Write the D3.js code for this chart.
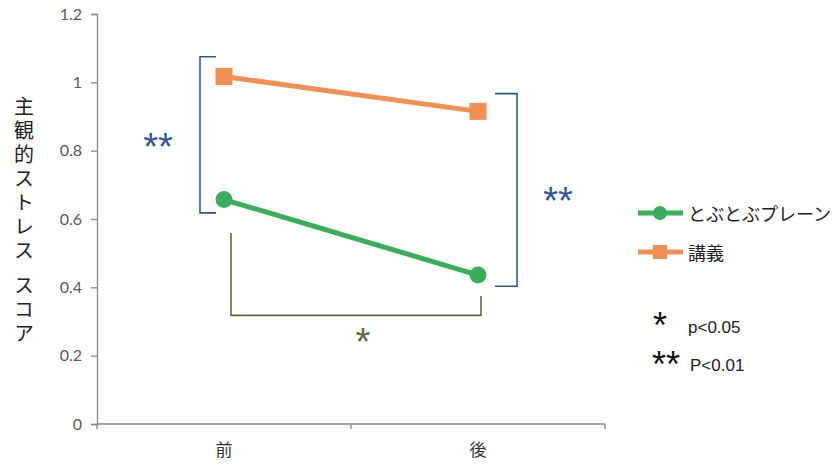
<!DOCTYPE html>
<html>
<head>
<meta charset="utf-8">
<script src="https://cdn.jsdelivr.net/npm/d3@7"></script>
<style>
  html, body { margin: 0; padding: 0; background: #fff; }
  svg { display: block; }
</style>
</head>
<body>
<svg id="chart" width="834" height="466"></svg>
<script>
// Subjective stress score before and after, for two conditions
const categories = ["前", "後"];
const seriesNames = ["とぶとぶプレーン", "講義"];
const tobuValues = [0.657, 0.436];
const lectureValues = [1.017, 0.915];
const yTicks = [0, 0.2, 0.4, 0.6, 0.8, 1, 1.2];
const yTitle = "主観的ストレス スコア";

const svg = d3.select("#chart");
const margin = { left: 97, right: 229, top: 14, bottom: 42 };
const W = 834, H = 466;
const plotW = W - margin.left - margin.right;
const plotH = H - margin.top - margin.bottom;

const x = d3.scaleBand().domain(categories).range([margin.left, margin.left + plotW]);
const y = d3.scaleLinear().domain([0, 1.2]).range([margin.top + plotH, margin.top]);
const cx = c => x(c) + x.bandwidth() / 2;

const axisColor = "#868686";
const tickFont = "Lato, 'Open Sans', sans-serif";
const jpFont = "'Noto Sans CJK JP', sans-serif";
const starFont = "'Liberation Sans', Arial, sans-serif";
const green = "#3aae5a";
const orange = "#f28f52";
const blue = "#2f5597";
const olive = "#5d6b3a";

// Y axis
const yAxis = svg.append("g")
  .attr("transform", `translate(${margin.left},0)`)
  .call(d3.axisLeft(y).tickValues(yTicks).tickSize(6).tickPadding(9)
    .tickFormat(d => d3.format("")(+d.toFixed(1))));
yAxis.select(".domain").attr("stroke", axisColor).attr("stroke-width", 1.3);
yAxis.selectAll(".tick line").attr("stroke", axisColor).attr("stroke-width", 1.3);
yAxis.selectAll(".tick text").attr("fill", "#595959")
  .style("font-family", tickFont).style("font-size", "16px");

// X axis with ticks at category boundaries
const xAxisG = svg.append("g").attr("transform", `translate(0,${y(0)})`);
xAxisG.append("line")
  .attr("x1", margin.left).attr("x2", margin.left + plotW)
  .attr("stroke", axisColor).attr("stroke-width", 1.3);
const bounds = [x(categories[0]), x(categories[1]), x(categories[1]) + x.bandwidth()];
xAxisG.selectAll(".xb").data(bounds).enter().append("line")
  .attr("x1", d => d).attr("x2", d => d).attr("y1", 0).attr("y2", 5)
  .attr("stroke", axisColor).attr("stroke-width", 1.3);
xAxisG.selectAll(".xl").data(categories).enter().append("text")
  .attr("x", d => cx(d)).attr("y", 32)
  .attr("text-anchor", "middle")
  .attr("fill", "#333")
  .style("font-family", jpFont).style("font-size", "17px")
  .text(d => d);

// Y title, set in vertical writing mode; the word gap is kept narrow
const titleParts = yTitle.split(" ");
const title = svg.append("text")
  .attr("x", 24).attr("y", 96)
  .attr("fill", "#222")
  .style("writing-mode", "vertical-rl")
  .style("text-orientation", "upright")
  .style("letter-spacing", "4px")
  .style("font-family", jpFont).style("font-size", "20px");
titleParts.forEach((part, i) => {
  if (i > 0) title.append("tspan").style("font-size", "7px").text("\u00a0");
  title.append("tspan").text(part);
});

// Significance brackets
const bracketPath = (pts) => d3.line()(pts);
const leftBx = 200, rightBx = 517;
svg.append("path")
  .attr("d", bracketPath([[216, y(1.075)], [leftBx, y(1.075)], [leftBx, y(0.618)], [216, y(0.618)]]))
  .attr("fill", "none").attr("stroke", blue).attr("stroke-width", 1.6);
svg.append("path")
  .attr("d", bracketPath([[495, y(0.967)], [rightBx, y(0.967)], [rightBx, y(0.403)], [495, y(0.403)]]))
  .attr("fill", "none").attr("stroke", blue).attr("stroke-width", 1.6);
svg.append("path")
  .attr("d", bracketPath([[231, y(0.559)], [231, y(0.318)], [481, y(0.318)], [481, y(0.375)]]))
  .attr("fill", "none").attr("stroke", olive).attr("stroke-width", 1.6);

// Asterisks: the glyph sits ~0.58em above the baseline, so shift to centre it
const star = (tx, cy, txt, col, size) => svg.append("text")
  .attr("x", tx).attr("y", cy + size * 0.58).attr("text-anchor", "middle")
  .attr("fill", col)
  .style("font-family", starFont)
  .style("font-size", size + "px")
  .text(txt);
star(158, 138, "**", blue, 38);
star(558, 192, "**", blue, 38);
star(363, 333, "*", olive, 38);

// Series lines and markers
const line = d3.line().x((d, i) => cx(categories[i])).y(d => y(d));
svg.append("path").datum(lectureValues)
  .attr("d", line).attr("fill", "none").attr("stroke", orange).attr("stroke-width", 5);
svg.append("path").datum(tobuValues)
  .attr("d", line).attr("fill", "none").attr("stroke", green).attr("stroke-width", 5);

svg.selectAll(".sq").data(lectureValues).enter().append("rect")
  .attr("x", (d, i) => cx(categories[i]) - 8.5).attr("y", d => y(d) - 8.5)
  .attr("width", 17).attr("height", 17).attr("fill", orange);
svg.selectAll(".dot").data(tobuValues).enter().append("circle")
  .attr("cx", (d, i) => cx(categories[i])).attr("cy", d => y(d))
  .attr("r", 8.5).attr("fill", green);

// Legend
const legend = svg.append("g");
const legendItems = [
  { name: seriesNames[0], color: green, shape: "circle", y: 213 },
  { name: seriesNames[1], color: orange, shape: "square", y: 252 }
];
legendItems.forEach(it => {
  legend.append("line").attr("x1", 638).attr("x2", 683).attr("y1", it.y).attr("y2", it.y)
    .attr("stroke", it.color).attr("stroke-width", 5);
  if (it.shape === "circle") {
    legend.append("circle").attr("cx", 660).attr("cy", it.y).attr("r", 7).attr("fill", it.color);
  } else {
    legend.append("rect").attr("x", 653).attr("y", it.y - 7).attr("width", 14).attr("height", 14).attr("fill", it.color);
  }
  legend.append("text").attr("x", 688).attr("y", it.y).attr("dominant-baseline", "central")
    .attr("fill", "#222").style("font-family", jpFont).style("font-size", "18px")
    .text(it.name);
});

// Significance key
const keyStar = (tx, cy, txt) => legend.append("text")
  .attr("x", tx).attr("y", cy + 36 * 0.58).attr("text-anchor", "middle")
  .attr("fill", "#111").style("font-family", starFont).style("font-size", "36px").text(txt);
keyStar(660, 317, "*");
keyStar(666, 356, "**");
legend.append("text").attr("x", 688).attr("y", 333)
  .attr("fill", "#222").style("font-family", starFont).style("font-size", "17px").text("p<0.05");
legend.append("text").attr("x", 690).attr("y", 371)
  .attr("fill", "#222").style("font-family", starFont).style("font-size", "17px").text("P<0.01");
</script>
</body>
</html>
